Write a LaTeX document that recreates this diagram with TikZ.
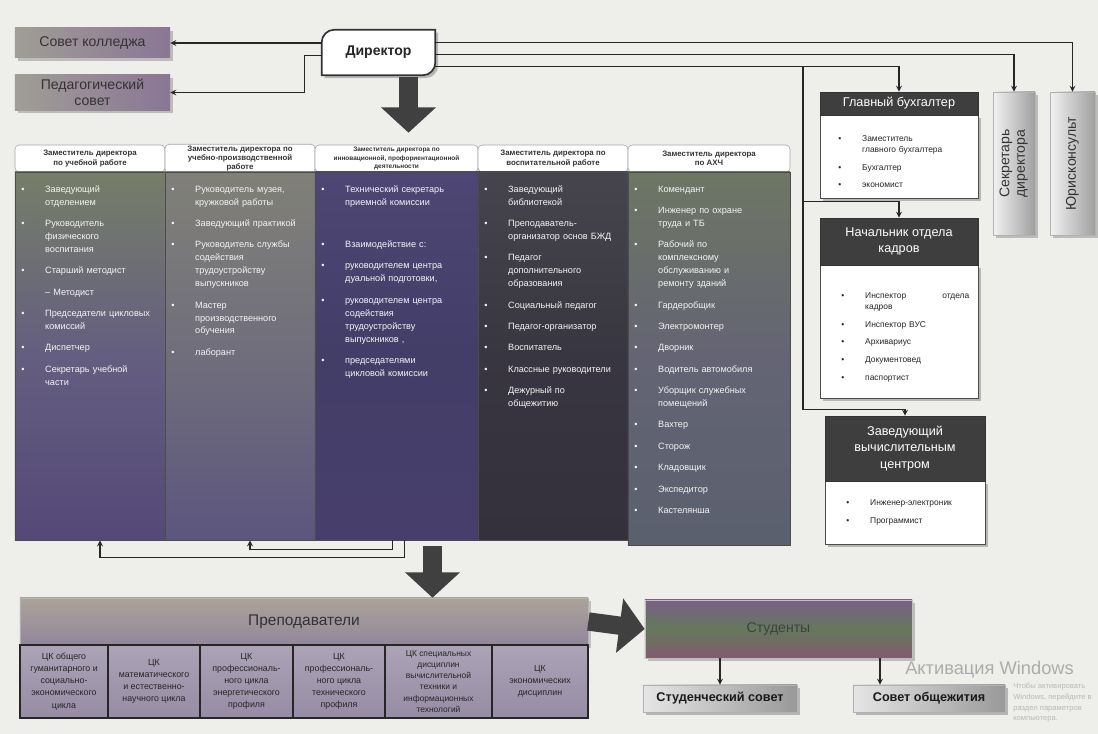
\documentclass[tikz,border=0pt]{standalone}
\usepackage{fontspec}
\setmainfont{Liberation Sans}
\usetikzlibrary{arrows.meta,shadows,calc,backgrounds}

\definecolor{paper}{RGB}{238,238,235}
\definecolor{sidegray}{RGB}{160,158,150}
\definecolor{sideviolet}{RGB}{138,118,150}
\definecolor{onetop}{RGB}{118,126,104}
\definecolor{onemid}{RGB}{100,94,128}
\definecolor{onebot}{RGB}{84,72,120}
\definecolor{twotop}{RGB}{128,128,120}
\definecolor{twomid}{RGB}{112,110,124}
\definecolor{twobot}{RGB}{92,86,126}
\definecolor{thrtop}{RGB}{78,70,116}
\definecolor{thrmid}{RGB}{66,62,104}
\definecolor{thrbot}{RGB}{72,62,108}
\definecolor{foutop}{RGB}{70,68,76}
\definecolor{foumid}{RGB}{56,54,64}
\definecolor{foubot}{RGB}{52,48,60}
\definecolor{fivtop}{RGB}{110,118,100}
\definecolor{fivmid}{RGB}{100,100,116}
\definecolor{fivbot}{RGB}{90,96,110}
\definecolor{headdark}{RGB}{62,62,62}
\definecolor{prepgray}{RGB}{170,164,152}
\definecolor{prepviolet}{RGB}{146,134,156}
\definecolor{cellviolet}{RGB}{150,140,164}
\definecolor{studtop}{RGB}{122,96,134}
\definecolor{studmid}{RGB}{100,120,92}
\definecolor{studbot}{RGB}{128,92,112}

\newlength\itmskip
\setlength\itmskip{6pt}
\newcommand{\itm}[1]{\par\noindent\hangindent=17pt\hangafter=1\makebox[17pt][l]{\textbullet}#1\par\vspace{\itmskip}}

\begin{document}
\begin{tikzpicture}[x=0.025cm,y=-0.025cm,
  sidebox/.style={left color=sidegray, right color=sideviolet, align=center, inner sep=1pt,
    font=\fontsize{10}{11}\selectfont, text=black!80,
    drop shadow={opacity=0.45,shadow xshift=2pt,shadow yshift=-2pt}},
  colhead/.style={draw=gray!70, fill=white, rounded corners=3pt, align=center, inner sep=1pt,
    font=\bfseries\fontsize{5.6}{6.6}\selectfont, text=black!80},
  colbody/.style={draw=black!70, inner sep=0pt},
  itemlist/.style={anchor=north west, inner sep=0pt, text=white!92!gray, align=left,
    font={\fontsize{6.5}{9.2}\selectfont\setlength\itmskip{6pt}}},
  darkhead/.style={fill=headdark, draw=black!80, text=white, align=center, inner sep=1pt,
    font=\fontsize{9}{11.5}\selectfont},
  whitebody/.style={fill=white, draw=black!70, inner sep=0pt,
    drop shadow={opacity=0.5,shadow xshift=2pt,shadow yshift=-2pt}},
  smalllist/.style={anchor=north west, inner sep=0pt, text=black!85, align=left,
    font={\fontsize{6}{8}\selectfont\setlength\itmskip{4.5pt}}},
  vertbox/.style={draw=gray!60, left color=white!90!gray, right color=gray!75, inner sep=0pt,
    font=\fontsize{10}{11}\selectfont, text=black!80,
    drop shadow={opacity=0.45,shadow xshift=2pt,shadow yshift=-2pt}},
  ckcell/.style={draw=black!85, line width=1.2pt, top color=cellviolet!80!white, bottom color=cellviolet,
    align=center, inner sep=0.5pt, font=\fontsize{6.3}{8.6}\selectfont, text=black!85},
  lowbox/.style={left color=white!80!gray, right color=gray!80, draw=gray!60,
    font=\bfseries\fontsize{9}{10}\selectfont, text=black!90,
    drop shadow={opacity=0.5,shadow xshift=2pt,shadow yshift=-2pt}},
  link/.style={-stealth, line width=0.9pt, black!85},
  bigarrow/.style={line width=13pt, black!75, -{Triangle[length=18pt,width=38pt]}},
]
%%% CANVAS %%%
\useasboundingbox (0,0) rectangle (1098,734);
\begin{scope}[on background layer]
  \fill[paper] (0,0) rectangle (1098,734);
\end{scope}

%%% WATERMARK %%%
\node[anchor=west, inner sep=0pt, text=gray!65, font=\fontsize{13}{15}\selectfont] (wmone) at (905,670) {Активация Windows};
\node[anchor=north west, inner sep=0pt, text=gray!55, align=left, font=\fontsize{5.4}{7.6}\selectfont] (wmtwo) at (1013,683) {Чтобы активировать\\Windows, перейдите в\\раздел параметров\\компьютера.};

%%% TOP ROW %%%
\node[sidebox, minimum width=3.875cm, minimum height=0.75cm] (sovet) at (92.5,43) {Совет колледжа};
\node[sidebox, minimum width=3.875cm, minimum height=0.875cm] (pedsovet) at (92.5,92.5) {Педагогический\\совет};
\node[minimum width=2.825cm, minimum height=1.125cm, inner sep=0pt, text=black!85,
  font=\bfseries\fontsize{10}{12}\selectfont] (dir) at (378.5,52.5) {Директор};
\begin{scope}[on background layer]
  \filldraw[fill=white, draw=black!80, line width=1.2pt, drop shadow={opacity=0.5,shadow xshift=2pt,shadow yshift=-2pt}]
    (dir.west) [rounded corners=9pt] -- (dir.north west) -- (dir.north) [sharp corners] -- (dir.north east)
    -- (dir.east) [rounded corners=9pt] -- (dir.south east) -- (dir.south) [sharp corners] -- (dir.south west) -- cycle;
\end{scope}

%%% DEPUTIES %%%
\node[colhead, minimum width=3.75cm, minimum height=0.675cm] (hone) at (90,158.5) {Заместитель директора\\по учебной работе};
\node[colhead, minimum width=3.75cm, minimum height=0.675cm] (htwo) at (240,158.5) {Заместитель директора по\\учебно-производственной\\работе};
\node[colhead, minimum width=4.075cm, minimum height=0.675cm, font=\bfseries\fontsize{4.6}{5.8}\selectfont] (hthr) at (396.5,158.5) {Заместитель директора по\\инновационной, профориентационной\\деятельности};
\node[colhead, minimum width=3.75cm, minimum height=0.675cm] (hfou) at (553,158.5) {Заместитель директора по\\воспитательной работе};
\node[colhead, minimum width=4.05cm, minimum height=0.675cm] (hfiv) at (709,158.5) {Заместитель директора\\по АХЧ};

\node[colbody, top color=onetop, bottom color=onebot, middle color=onemid, minimum width=3.75cm, minimum height=9.2cm] (bone) at (90,356) {};
\node[colbody, top color=twotop, bottom color=twobot, middle color=twomid, minimum width=3.75cm, minimum height=9.2cm] (btwo) at (240,356) {};
\node[colbody, top color=thrtop, bottom color=thrbot, middle color=thrmid, minimum width=4.075cm, minimum height=9.2cm] (bthr) at (396.5,356) {};
\node[colbody, top color=foutop, bottom color=foubot, middle color=foumid, minimum width=3.75cm, minimum height=9.2cm] (bfou) at (553,356) {};
\node[colbody, top color=fivtop, bottom color=fivbot, middle color=fivmid, minimum width=4.05cm, minimum height=9.325cm] (bfiv) at (709,358.5) {};

\node[itemlist, text width=3.5cm] (lone) at (21,179) {%
  \itm{Заведующий\newline отделением}
  \itm{Руководитель\newline физического\newline воспитания}
  \itm{Старший методист}
  \par\noindent\hspace{17pt}– Методист\par\vspace{\itmskip}
  \itm{Председатели цикловых\newline комиссий}
  \itm{Диспетчер}
  \itm{Секретарь учебной\newline части}};
\node[itemlist, text width=3.5cm] (ltwo) at (171,179) {%
  \itm{Руководитель музея,\newline кружковой работы}
  \itm{Заведующий практикой}
  \itm{Руководитель службы\newline содействия\newline трудоустройству\newline выпускников}
  \itm{Мастер\newline производственного\newline обучения}
  \itm{лаборант}};
\node[itemlist, text width=3.75cm] (lthr) at (321,179) {%
  \itm{Технический секретарь\newline приемной комиссии}
  \vspace{15pt}
  \itm{Взаимодействие с:}
  \itm{руководителем центра\newline дуальной подготовки,}
  \itm{руководителем центра\newline содействия\newline трудоустройству\newline выпускников ,}
  \itm{председателями\newline цикловой комиссии}};
\node[itemlist, text width=3.5cm] (lfou) at (484,179) {%
  \itm{Заведующий\newline библиотекой}
  \itm{Преподаватель-\newline организатор основ БЖД}
  \itm{Педагог\newline дополнительного\newline образования}
  \itm{Социальный педагог}
  \itm{Педагог-организатор}
  \itm{Воспитатель}
  \itm{Классные руководители}
  \itm{Дежурный по\newline общежитию}};
\node[itemlist, text width=3.75cm] (lfiv) at (634,179) {%
  \itm{Комендант}
  \itm{Инженер по охране\newline труда и ТБ}
  \itm{Рабочий по\newline комплексному\newline обслуживанию и\newline ремонту зданий}
  \itm{Гардеробщик}
  \itm{Электромонтер}
  \itm{Дворник}
  \itm{Водитель автомобиля}
  \itm{Уборщик служебных\newline помещений}
  \itm{Вахтер}
  \itm{Сторож}
  \itm{Кладовщик}
  \itm{Экспедитор}
  \itm{Кастелянша}};

%%% RIGHT SIDE %%%
\node[whitebody, minimum width=3.95cm, minimum height=2.075cm] (glbuhb) at (899,156.5) {};
\node[darkhead, minimum width=3.95cm, minimum height=0.575cm] (glbuh) at (899,103.5) {Главный бухгалтер};
\node[smalllist, text width=3.3cm] (glbuhl) at (838,130) {%
  \itm{Заместитель\newline главного бухгалтера}
  \itm{Бухгалтер}
  \itm{экономист}};

\node[whitebody, minimum width=3.95cm, minimum height=3.325cm] (kadryb) at (899,331.5) {};
\node[darkhead, minimum width=3.95cm, minimum height=1.175cm] (kadry) at (899,241.5) {Начальник отдела\\кадров};
\node[smalllist, text width=3.2cm] (kadryl) at (841,287) {%
  \itm{Инспектор \hfill отдела\newline кадров}
  \itm{Инспектор ВУС}
  \itm{Архивариус}
  \itm{Документовед}
  \itm{паспортист}};

\node[whitebody, minimum width=4cm, minimum height=1.575cm] (vcb) at (905,512.5) {};
\node[darkhead, minimum width=4cm, minimum height=1.625cm] (vc) at (905,448.5) {Заведующий\\вычислительным\\центром};
\node[smalllist, text width=3.2cm] (vcl) at (846,494) {%
  \itm{Инженер-электроник}
  \itm{Программист}};

\node[vertbox, minimum width=1.05cm, minimum height=3.575cm] (sekr) at (1014,163.5)
  {\rotatebox{90}{\begin{tabular}{@{}c@{}}Секретарь\\директора\end{tabular}}};
\node[vertbox, minimum width=1.125cm, minimum height=3.575cm] (yurist) at (1072.5,163.5)
  {\rotatebox{90}{Юрисконсульт}};

%%% TEACHERS AND STUDENTS %%%
\node[top color=prepgray, bottom color=prepviolet, draw=gray!60, minimum width=14.2cm, minimum height=1.175cm,
  font=\fontsize{11}{13}\selectfont, text=black!80,
  drop shadow={opacity=0.4,shadow xshift=2pt,shadow yshift=-2pt}] (prep) at (304,621.5) {Преподаватели};
\node[ckcell, minimum width=2.2cm, minimum height=1.825cm] (ckone) at (64,681.5) {ЦК общего\\гуманитарного и\\социально-\\экономического\\цикла};
\node[ckcell, minimum width=2.3cm, minimum height=1.825cm] (cktwo) at (154,681.5) {ЦК\\математического\\и естественно-\\научного цикла};
\node[ckcell, minimum width=2.325cm, minimum height=1.825cm] (ckthr) at (246.5,681.5) {ЦК\\профессиональ-\\ного цикла\\энергетического\\профиля};
\node[ckcell, minimum width=2.3cm, minimum height=1.825cm] (ckfou) at (339,681.5) {ЦК\\профессиональ-\\ного цикла\\технического\\профиля};
\node[ckcell, minimum width=2.675cm, minimum height=1.825cm, font=\fontsize{6}{8}\selectfont] (ckfiv) at (438.5,681.5) {ЦК специальных\\дисциплин\\вычислительной\\техники и\\информационных\\технологий};
\node[ckcell, minimum width=2.4cm, minimum height=1.825cm] (cksix) at (540,681.5) {ЦК\\экономических\\дисциплин};

\node[top color=studtop, bottom color=studbot, middle color=studmid, draw=gray!50, minimum width=6.675cm, minimum height=1.45cm,
  font=\fontsize{10}{12}\selectfont, text=black!75,
  drop shadow={opacity=0.45,shadow xshift=2pt,shadow yshift=-2pt}] (stud) at (778.5,629) {Студенты};
\node[lowbox, minimum width=3.85cm, minimum height=0.675cm] (studsov) at (720,698.5) {Студенческий совет};
\node[lowbox, minimum width=3.8cm, minimum height=0.675cm] (obsch) at (929,698.5) {Совет общежития};

%%% CONNECTORS %%%
\draw[link] (dir.west |- sovet.east) -- (sovet.east);
\draw[link] ($(dir.west)+(0,3)$) -- ++(-17,0) |- (pedsovet.east);
\draw[link] ($(dir.east)+(0,-10)$) -| (yurist.north);
\draw[link] ($(dir.east)+(0,2)$) -| (sekr.north);
\draw[link] ($(dir.east)+(0,14)$) -| (glbuh.north);
\coordinate (split) at (803,66.5);
\draw[link] (split) |- ($(kadry.north)+(0,-16)$) -- (kadry.north);
\draw[link] (split) |- ($(vc.north)+(0,-6)$) -- (vc.north);

\draw[link] ($(bthr.south)+(8,0)$) -- ++(0,17) -| ($(bone.south)+(10,0)$);
\draw[link] ($(bthr.south)+(-4,0)$) -- ++(0,9) -| ($(btwo.south)+(10,0)$);

\coordinate (aone) at ($(dir.south -| hthr.north)+(12,2)$);
\draw[bigarrow] (aone) -- ($(hthr.north)+(12,-12)$);
\coordinate (atwo) at ($(bthr.south)+(36,6)$);
\draw[bigarrow] (atwo) -- (atwo |- prep.north);
\draw[bigarrow] (prep.east) -- (stud.west);

\draw[link] (studsov.north |- stud.south) -- (studsov.north);
\coordinate (otip) at ($(obsch.north)+(-49,0)$);
\draw[link] (otip |- stud.south) -- (otip);
\end{tikzpicture}
\end{document}
